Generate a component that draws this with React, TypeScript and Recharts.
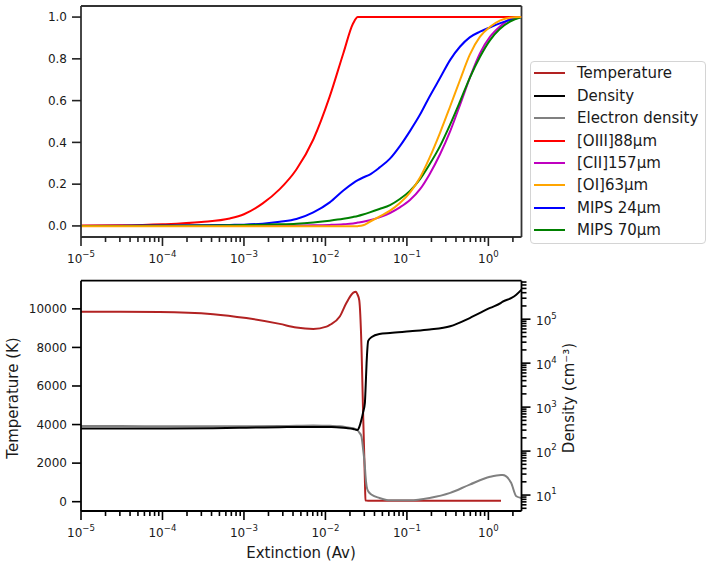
import { LineChart, Line, XAxis, YAxis, ReferenceLine } from 'recharts'

const FONT = '"DejaVu Sans", sans-serif'
const TEXT = '#1a1a1a'
const TOP_INK = '#333333'
const X_DOMAIN: [number, number] = [1e-5, 2.55]
const FRAC_DOMAIN: [number, number] = [-0.053, 1.053]
const TEMP_DOMAIN: [number, number] = [-483, 11460]
const DENS_DOMAIN: [number, number] = [4.34, 7.5e5]

// top panel: cumulative emission fraction vs extinction
const topAv = [
  1e-5, 3e-5, 1e-4, 3e-4, 6.7e-4, 1e-3, 1.7e-3, 2.75e-3, 4.4e-3, 7.1e-3, 0.0113,
  0.0166, 0.0219, 0.025, 0.029, 0.035, 0.046, 0.062, 0.082, 0.109, 0.145, 0.19,
  0.255, 0.34, 0.45, 0.59, 0.79, 1.05, 1.38, 1.84, 2.55,
]
const oiii = [
  0.002, 0.003, 0.008, 0.019, 0.036, 0.056, 0.108, 0.176, 0.27, 0.414, 0.62,
  0.827, 0.97, 1.0, 1.0, 1.0, 1.0, 1.0, 1.0, 1.0, 1.0, 1.0,
  1.0, 1.0, 1.0, 1.0, 1.0, 1.0, 1.0, 1.0, 1.0,
]
const cii = [
  0.0, 0.0, 0.0, 0.001, 0.001, 0.001, 0.002, 0.002, 0.002, 0.003, 0.005,
  0.008, 0.012, 0.016, 0.02, 0.027, 0.041, 0.062, 0.089, 0.124, 0.176, 0.248,
  0.343, 0.454, 0.581, 0.708, 0.827, 0.906, 0.954, 0.99, 1.0,
]
const oi = [
  -0.002, -0.002, -0.002, -0.002, -0.002, -0.002, -0.002, -0.002, -0.002, -0.002, -0.002,
  -0.002, -0.002, -0.001, 0.003, 0.02, 0.045, 0.073, 0.11, 0.16, 0.232, 0.327,
  0.446, 0.573, 0.7, 0.819, 0.906, 0.954, 0.983, 0.997, 1.0,
]
const mips24 = [
  0.0, 0.001, 0.002, 0.003, 0.005, 0.006, 0.011, 0.02, 0.033, 0.065, 0.113,
  0.17, 0.205, 0.219, 0.232, 0.246, 0.279, 0.322, 0.382, 0.454, 0.533, 0.62,
  0.708, 0.795, 0.859, 0.903, 0.93, 0.951, 0.97, 0.986, 1.0,
]
const mips70 = [
  0.0, 0.0, 0.001, 0.002, 0.003, 0.004, 0.006, 0.008, 0.011, 0.017, 0.025,
  0.034, 0.043, 0.048, 0.055, 0.065, 0.081, 0.1, 0.129, 0.168, 0.224, 0.295,
  0.382, 0.486, 0.597, 0.708, 0.81, 0.89, 0.943, 0.978, 1.0,
]

// bottom panel: temperature (left axis) and densities (right, log)
const bottomAv = [
  1e-5, 3e-5, 9.2e-5, 4.2e-4, 1.07e-3, 2.75e-3, 4.4e-3, 7.1e-3, 0.0103, 0.0113,
  0.015, 0.018, 0.022, 0.0237, 0.0247, 0.026, 0.0277, 0.029, 0.0305, 0.031,
  0.032, 0.0335, 0.037, 0.046, 0.062, 0.109, 0.19, 0.34, 0.59, 1.05,
  1.43, 1.5, 1.9, 2.2, 2.55,
]
const temperature = [
  9850, 9850, 9840, 9725, 9520, 9220, 9030, 8960, 9080, 9170,
  9600, 10290, 10840, 10890, 10750, 10450, 8050, 4600, 1150, 70,
  55, 52, 50, 50, 50, 50, 50, 50, 50, 50,
  50, null, null, null, null,
]
const density = [
  327, 327, 328, 332, 340, 350, 353, 355, 355, 353,
  345, 335, 318, 305, 300, 350, 520, 760, 1250, 2300,
  1e4, 3.2e4, 3.93e4, 4.6e4, 4.86e4, 5.3e4, 5.8e4, 6.9e4, 1.06e5, 1.8e5,
  2.35e5, 2.5e5, 3.0e5, 3.6e5, 4.7e5,
]
const electronDensity = [
  370, 370, 368, 366, 368, 372, 376, 380, 378, 375,
  365, 350, 330, 315, 300, 265, 215, 110, 45, 28,
  16, 12.2, 10.2, 8.6, 7.6, 7.6, 8.6, 11.2, 17.3, 26,
  28.5, 28.5, 19, 9.4, 8.6,
]

const xDecades = [1e-5, 1e-4, 1e-3, 1e-2, 1e-1, 1]
const densityDecades = [1, 10, 100, 1e3, 1e4, 1e5]
const fractionTicks = [0, 0.2, 0.4, 0.6, 0.8, 1.0]
const temperatureTicks = [0, 2000, 4000, 6000, 8000, 10000]

const legendItems = [
  { name: 'Temperature', color: '#b22222' },
  { name: 'Density', color: '#000000' },
  { name: 'Electron density', color: '#808080' },
  { name: '[OIII]88μm', color: '#ff0000' },
  { name: '[CII]157μm', color: '#bf00bf' },
  { name: '[OI]63μm', color: '#ffa500' },
  { name: 'MIPS 24μm', color: '#0000ff' },
  { name: 'MIPS 70μm', color: '#008000' },
]

function withMinors(decades: number[], lo: number, hi: number) {
  const out: number[] = []
  decades.forEach((d) => {
    for (let m = 1; m <= 9; m++) {
      const v = d * m
      if (v >= lo && v <= hi) out.push(v)
    }
  })
  return out
}

const xTicks = withMinors(xDecades, X_DOMAIN[0], X_DOMAIN[1])
const densityTicks = withMinors(densityDecades, DENS_DOMAIN[0], DENS_DOMAIN[1])

const topRows = topAv.map((av, i) => ({
  av,
  oiii: oiii[i],
  cii: cii[i],
  oi: oi[i],
  mips24: mips24[i],
  mips70: mips70[i],
}))

const bottomRows = bottomAv.map((av, i) => ({
  av,
  temperature: temperature[i],
  density: density[i],
  electron: electronDensity[i],
}))

const isDecade = (v: number) => Math.abs(Math.log10(v) - Math.round(Math.log10(v))) < 1e-6
const expText = (v: number) => {
  const e = Math.round(Math.log10(v))
  return e < 0 ? `\u2212${-e}` : `${e}`
}

function XLogTick(props: any) {
  const { x, y, payload, ink } = props
  const major = isDecade(payload.value)
  return (
    <g>
      <line x1={x} x2={x} y1={y} y2={y + (major ? 9 : 5)} stroke={ink} strokeWidth={1.6} />
      {major && (
        <text x={x} y={y + 26} textAnchor="middle" fontSize={12} fill={TEXT} fontFamily={FONT}>
          <tspan>10</tspan>
          <tspan dy={-6.3} fontSize={8.6}>{expText(payload.value)}</tspan>
        </text>
      )}
    </g>
  )
}

function YLinTick(props: any) {
  const { x, y, payload, ink, digits } = props
  return (
    <g>
      <line x1={x - 9} x2={x} y1={y} y2={y} stroke={ink} strokeWidth={1.6} />
      <text x={x - 14} y={y + 4.3} textAnchor="end" fontSize={12} fill={TEXT} fontFamily={FONT}>
        {payload.value.toFixed(digits)}
      </text>
    </g>
  )
}

function YLogTick(props: any) {
  const { x, y, payload } = props
  const major = isDecade(payload.value)
  return (
    <g>
      <line x1={x} x2={x + (major ? 9 : 5)} y1={y} y2={y} stroke="#000" strokeWidth={1.6} />
      {major && (
        <text x={x + 14.5} y={y + 5.7} fontSize={12} fill={TEXT} fontFamily={FONT}>
          <tspan>10</tspan>
          <tspan dy={-6.3} fontSize={8.6}>{expText(payload.value)}</tspan>
        </text>
      )}
    </g>
  )
}

function AxisTitle({ x, y, text, vertical }: { x: number; y: number; text: string; vertical?: boolean }) {
  return (
    <text
      x={x}
      y={y}
      textAnchor="middle"
      fontSize={15}
      fill={TEXT}
      fontFamily={FONT}
      transform={vertical ? `rotate(-90 ${x} ${y})` : undefined}
    >
      {text}
    </text>
  )
}

function Legend() {
  return (
    <div
      style={{
        position: 'absolute',
        left: 529.5,
        top: 61,
        width: 176.5,
        height: 183,
        border: '1px solid #d4d4d4',
        borderRadius: 4,
        boxSizing: 'border-box',
        background: '#fff',
      }}
    >
      {legendItems.map((it, i) => {
        const cy = 11.3 + i * 22.4
        return (
          <div key={it.name}>
            <div style={{ position: 'absolute', left: 3.5, top: cy - 1, width: 31, height: 2, background: it.color }} />
            <div
              style={{
                position: 'absolute',
                left: 46.5,
                top: cy - 10,
                fontSize: 15,
                lineHeight: '20px',
                color: TEXT,
                whiteSpace: 'nowrap',
              }}
            >
              {it.name}
            </div>
          </div>
        )
      })}
    </div>
  )
}

export default function App() {
  const topSpine = { stroke: TOP_INK, strokeWidth: 1.8 }
  const spine = { stroke: '#000', strokeWidth: 1.8 }
  return (
    <div style={{ position: 'absolute', left: 0, top: 0, width: 712, height: 568, background: '#fff', fontFamily: FONT }}>
      <div style={{ position: 'absolute', left: 0, top: 0 }}>
        <LineChart width={530} height={270} data={topRows} margin={{ top: 6, right: 8.5, bottom: 0, left: 0 }}>
          <XAxis
            dataKey="av"
            type="number"
            scale="log"
            domain={X_DOMAIN}
            allowDataOverflow
            ticks={xTicks}
            interval={0}
            height={33}
            tickSize={0}
            tickMargin={0}
            tickLine={false}
            axisLine={topSpine}
            tick={(p: any) => <XLogTick {...p} ink="#222" />}
          />
          <YAxis
            type="number"
            domain={FRAC_DOMAIN}
            allowDataOverflow
            ticks={fractionTicks}
            interval={0}
            width={81}
            tickSize={0}
            tickMargin={0}
            tickLine={false}
            axisLine={topSpine}
            tick={(p: any) => <YLinTick {...p} ink="#222" digits={1} />}
          />
          <ReferenceLine y={FRAC_DOMAIN[1]} ifOverflow="visible" stroke={TOP_INK} strokeWidth={1.8} />
          <ReferenceLine x={X_DOMAIN[1]} ifOverflow="visible" stroke={TOP_INK} strokeWidth={1.8} />
          <Line dataKey="oiii" type="monotone" stroke="#ff0000" strokeWidth={2} dot={false} isAnimationActive={false} />
          <Line dataKey="cii" type="monotone" stroke="#bf00bf" strokeWidth={2} dot={false} isAnimationActive={false} />
          <Line dataKey="mips24" type="monotone" stroke="#0000ff" strokeWidth={2} dot={false} isAnimationActive={false} />
          <Line dataKey="mips70" type="monotone" stroke="#008000" strokeWidth={2} dot={false} isAnimationActive={false} />
          <Line dataKey="oi" type="monotone" stroke="#ffa500" strokeWidth={2} dot={false} isAnimationActive={false} />
        </LineChart>
      </div>
      <Legend />
      <div style={{ position: 'absolute', left: 0, top: 270 }}>
        <LineChart width={712} height={298} data={bottomRows} margin={{ top: 10.7, right: 0, bottom: 0, left: 0 }}>
          <XAxis
            dataKey="av"
            type="number"
            scale="log"
            domain={X_DOMAIN}
            allowDataOverflow
            ticks={xTicks}
            interval={0}
            height={57}
            tickSize={0}
            tickMargin={0}
            tickLine={false}
            axisLine={spine}
            tick={(p: any) => <XLogTick {...p} ink="#000" />}
            label={() => <AxisTitle x={301} y={287.7} text="Extinction (Av)" />}
          />
          <YAxis
            yAxisId="t"
            type="number"
            domain={TEMP_DOMAIN}
            allowDataOverflow
            ticks={temperatureTicks}
            interval={0}
            width={81}
            tickSize={0}
            tickMargin={0}
            tickLine={false}
            axisLine={spine}
            tick={(p: any) => <YLinTick {...p} ink="#000" digits={0} />}
            label={() => <AxisTitle x={18.3} y={128} text="Temperature (K)" vertical />}
          />
          <YAxis
            yAxisId="d"
            orientation="right"
            type="number"
            scale="log"
            domain={DENS_DOMAIN}
            allowDataOverflow
            ticks={densityTicks}
            interval={0}
            width={190.5}
            tickSize={0}
            tickMargin={0}
            tickLine={false}
            axisLine={spine}
            tick={(p: any) => <YLogTick {...p} />}
            label={() => <AxisTitle x={573.5} y={128} text="Density (cm⁻³)" vertical />}
          />
          <ReferenceLine yAxisId="t" y={TEMP_DOMAIN[1]} ifOverflow="visible" stroke="#000" strokeWidth={1.8} />
          <Line yAxisId="t" dataKey="temperature" type="monotone" stroke="#b22222" strokeWidth={2} dot={false} isAnimationActive={false} />
          <Line yAxisId="d" dataKey="electron" type="monotone" stroke="#808080" strokeWidth={2} dot={false} isAnimationActive={false} />
          <Line yAxisId="d" dataKey="density" type="monotone" stroke="#000000" strokeWidth={2} dot={false} isAnimationActive={false} />
        </LineChart>
      </div>
    </div>
  )
}
